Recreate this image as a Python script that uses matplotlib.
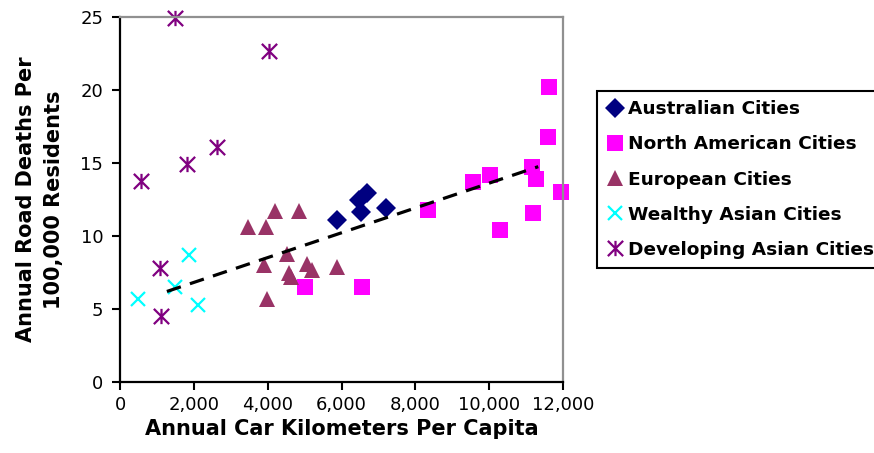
import matplotlib
matplotlib.use("Agg")
import matplotlib.pyplot as plt
from matplotlib.path import Path

# Werte
aus_km = [5880, 6470, 6520, 6700, 7200]
aus_deaths = [11.1, 12.47, 11.66, 12.92, 11.89]

na_km = [11630, 11600, 11160, 11270, 11950, 11200, 10290, 10030, 9550, 8330, 6560, 5020]
na_deaths = [20.2, 16.8, 14.7, 13.9, 13.0, 11.6, 10.4, 14.2, 13.7, 11.8, 6.5, 6.5]

eu_km = [3460, 3960, 4210, 4860, 3890, 4530, 4570, 4630, 5060, 5200, 5890, 3980]
eu_deaths = [10.6, 10.65, 11.7, 11.7, 8.0, 8.75, 7.45, 7.2, 8.05, 7.7, 7.85, 5.7]

wa_km = [500, 1490, 1870, 2110]
wa_deaths = [5.7, 6.5, 8.7, 5.3]

da_km = [1490, 4040, 2640, 1820, 570, 1070, 1100]
da_deaths = [24.9, 22.7, 16.1, 14.95, 13.8, 7.8, 4.5]

# Trendlinie (Endpunkte)
trend_km = [1270, 11330]
trend_deaths = [6.2, 14.75]

x_ticks = [0, 2000, 4000, 6000, 8000, 10000, 12000]
x_labels = ["0", "2,000", "4,000", "6,000", "8,000", "10,000", "12,000"]
y_ticks = [0, 5, 10, 15, 20, 25]

# Stern-Marker wie in Excel: senkrechter Strich + X
asterisk = Path(
    [(0, -0.5), (0, 0.5), (-0.5, -0.5), (0.5, 0.5), (-0.5, 0.5), (0.5, -0.5)],
    [Path.MOVETO, Path.LINETO, Path.MOVETO, Path.LINETO, Path.MOVETO, Path.LINETO],
)

fig = plt.figure(figsize=(8.74, 4.53), dpi=100)
ax = fig.add_axes([120 / 874, 1 - 382 / 453, 443 / 874, 365 / 453])

ax.plot(aus_km, aus_deaths, ls="none", marker="D", ms=10, mew=0,
        color="#000080", label="Australian Cities", clip_on=False)
ax.plot(na_km, na_deaths, ls="none", marker="s", ms=11, mew=0,
        color="#FF00FF", label="North American Cities", clip_on=False)
ax.plot(eu_km, eu_deaths, ls="none", marker="^", ms=11.5, mew=0,
        color="#993366", label="European Cities", clip_on=False)
ax.plot(wa_km, wa_deaths, ls="none", marker="x", ms=10.5, mew=1.6,
        color="#00FFFF", label="Wealthy Asian Cities", clip_on=False)
ax.plot(da_km, da_deaths, ls="none", marker=asterisk, ms=11, mew=1.6,
        color="#800080", label="Developing Asian Cities", clip_on=False)

trend, = ax.plot(trend_km, trend_deaths, color="black", lw=2.3, zorder=5)
trend.set_dashes((4.6, 3.0))
trend.set_dash_capstyle("butt")

ax.set_xlim(0, 12000)
ax.set_ylim(0, 25)
ax.set_xticks(x_ticks)
ax.set_xticklabels(x_labels)
ax.set_yticks(y_ticks)

for side in ["left", "bottom"]:
    ax.spines[side].set_color("black")
    ax.spines[side].set_linewidth(1.6)
for side in ["top", "right"]:
    ax.spines[side].set_color("#909090")
    ax.spines[side].set_linewidth(1.6)

ax.tick_params(axis="both", direction="out", length=6, width=1.5, labelsize=13)
ax.tick_params(axis="x", pad=4)
ax.tick_params(axis="y", pad=6)

ax.set_xlabel("Annual Car Kilometers Per Capita", fontsize=15, fontweight="bold", labelpad=4)
ax.set_ylabel("Annual Road Deaths Per\n100,000 Residents", fontsize=15,
              fontweight="bold", labelpad=12, linespacing=1.45)

leg = ax.legend(loc="upper left", bbox_to_anchor=(597 / 874, 1 - 91 / 453),
                bbox_transform=fig.transFigure, borderaxespad=0,
                prop={"size": 13.3, "weight": "bold"}, frameon=True, fancybox=False,
                edgecolor="black", framealpha=1, borderpad=0.5, labelspacing=0.93,
                handlelength=0.9, handletextpad=0.3)
leg.get_frame().set_linewidth(1.5)

fig.savefig("out.png", dpi=100)
